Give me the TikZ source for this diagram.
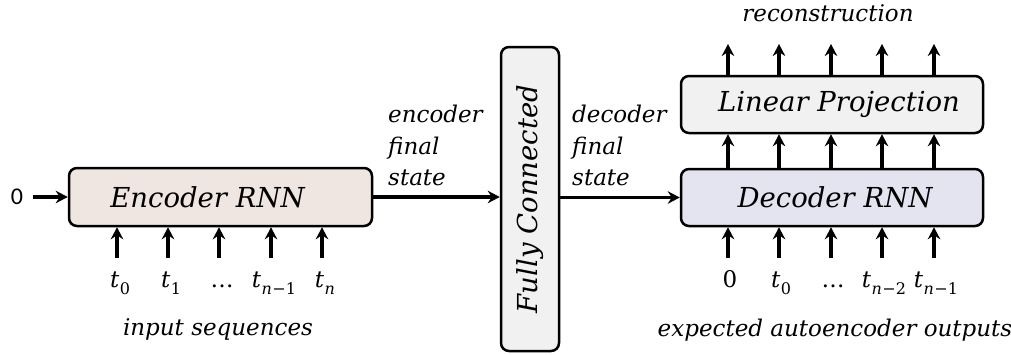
\documentclass[tikz,border=0pt]{standalone}
\usepackage{fontspec}
\setmainfont{DejaVu Serif}
\newfontfamily\digitfont{Carlito}
\usetikzlibrary{arrows.meta}

\definecolor{encfill}{HTML}{EFE6E2}
\definecolor{decfill}{HTML}{E4E4F0}
\definecolor{grayfill}{HTML}{F1F1F1}

% t with a subscript, set by hand in the text font
\newcommand{\tsub}[1]{\textit{t}\kern0.5pt\raisebox{-0.34em}{\fontsize{16}{16}\selectfont #1}}
\newcommand{\nsub}[1]{\textit{n}\kern0.3pt−\kern0.3pt#1}

\begin{document}
\begin{tikzpicture}[x=1pt,y=-1pt,
  box/.style={draw=black, line width=2.5pt, rounded corners=8pt, inner sep=0pt,
    font=\itshape\fontsize{27.5}{30}\selectfont},
  conn/.style={line width=3.2pt, -{Stealth[length=12pt,width=12.5pt,inset=4pt]}},
  note/.style={font=\itshape\fontsize{23}{31.5}\selectfont, inner sep=0pt},
  seq/.style={font=\fontsize{23}{24}\selectfont, inner sep=0pt, anchor=base}]
\useasboundingbox (0,0) rectangle (1011,354);

% blocks (the rotated one: its north side faces left, its south side right)
\node[box, fill=encfill, minimum width=303pt, minimum height=58pt]
  (enc) at (220.5,197) {Encoder RNN\hspace*{26pt}};
\node[box, fill=grayfill, minimum width=304pt, minimum height=58pt, rotate=90]
  (fc) at (530,199) {Fully Connected};
\node[box, fill=decfill, minimum width=302pt, minimum height=57pt]
  (dec) at (832,197.5) {Decoder RNN\hspace*{-6pt}};
\node[box, fill=grayfill, minimum width=302pt, minimum height=57pt]
  (lin) at (832,104.5) {Linear Projection\hspace*{-14pt}};

% initial state
\node[font=\digitfont\fontsize{24}{26}\selectfont, inner sep=0pt] (zero) at (17,197) {0};
\draw[conn] (zero.east) ++(10pt,0) coordinate (z0) (z0) -- (enc.west);

% states passed between the blocks
\draw[conn] (enc.east) -- (enc.east -| fc.north);
\draw[conn] (fc.south |- dec.west) -- (dec.west);
\node[note, align=left, anchor=north west] (encstate) at (388,105) {encoder\\final\\state};
\node[note, align=left, anchor=north west] (decstate) at (572,105) {decoder\\final\\state};

% encoder inputs
\foreach \x/\lab [count=\i] in {117/\tsub{0}, 168/\tsub{1}, 219/…, 271/\tsub{\nsub{1}}, 322/\tsub{\textit{n}}}{
  \coordinate (ein\i) at (\x,258);
  \draw[conn] (ein\i) -- (ein\i |- enc.south);
  \node[seq] (elab\i) at (\x+3,287) {\lab};
}
\node[note] (insq) at (218,329) {input sequences};

% decoder inputs, hidden outputs and reconstruction
\foreach \x/\lab [count=\i] in {728/0, 779/\tsub{0}, 831/…, 882/\tsub{\nsub{2}}, 934/\tsub{\nsub{1}}}{
  \coordinate (din\i) at (\x,258);
  \draw[conn] (din\i) -- (din\i |- dec.south);
  \draw[conn] (din\i |- dec.north) -- (din\i |- lin.south);
  \coordinate (rec\i) at (\x,44);
  \draw[conn] (rec\i |- lin.north) -- (rec\i);
  \node[seq] (dlab\i) at (\x+2,287) {\lab};
}
\node[note] (expd) at (835,330) {expected autoencoder outputs};
\node[note] (recn) at (828,13) {reconstruction};
\end{tikzpicture}
\end{document}
